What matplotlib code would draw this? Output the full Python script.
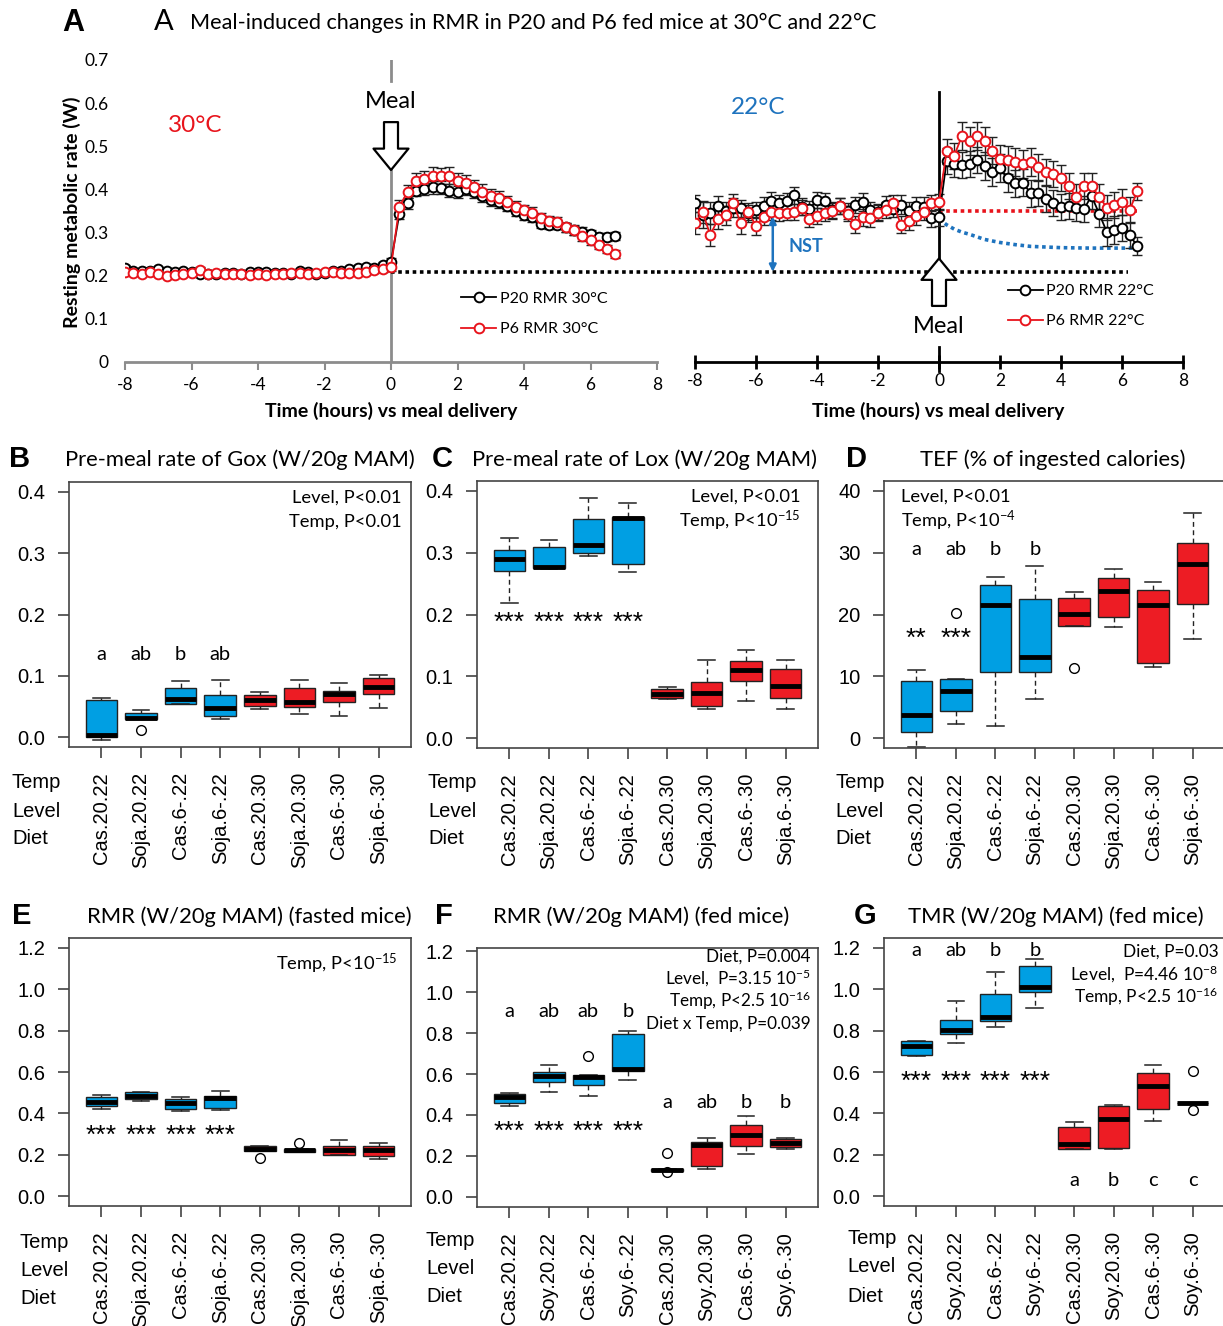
import matplotlib
matplotlib.use('Agg')
import matplotlib.pyplot as plt
import numpy as np

plt.rcParams['axes.unicode_minus'] = False
plt.rcParams['mathtext.fontset'] = 'custom'
plt.rcParams['mathtext.rm'] = 'Lato'
plt.rcParams['mathtext.it'] = 'Lato:italic'
plt.rcParams['mathtext.bf'] = 'Lato:bold'
CAL = ['Lato', 'DejaVu Sans']
ARI = ['Liberation Sans', 'DejaVu Sans']
plt.rcParams['font.family'] = CAL

BLUE = '#009fe3'
RED = '#ed1c24'
BLUE22 = '#1e73be'
RED_A = '#e8141c'

# ---------------- panel A data (15 min bins) ----------------
t30 = np.arange(-8, 7, 0.25)      # -8 .. 6.75 h
t22 = np.arange(-8, 6.75, 0.25)   # -8 .. 6.5 h

p20_30 = [0.218, 0.212, 0.210, 0.212, 0.215, 0.212, 0.208, 0.210, 0.208, 0.205,
          0.203, 0.205, 0.207, 0.206, 0.205, 0.209, 0.208, 0.209, 0.207, 0.206,
          0.205, 0.210, 0.208, 0.203, 0.207, 0.211, 0.210, 0.215, 0.218, 0.220,
          0.218, 0.225, 0.232,
          0.343, 0.368, 0.397, 0.402, 0.405, 0.404, 0.397, 0.395, 0.400, 0.395,
          0.385, 0.375, 0.370, 0.362, 0.350, 0.340, 0.335, 0.320, 0.318, 0.318,
          0.312, 0.305, 0.302, 0.296, 0.290, 0.290, 0.292]
p6_30 = [0.208, 0.207, 0.205, 0.208, 0.205, 0.200, 0.202, 0.205, 0.207, 0.213,
         0.205, 0.207, 0.205, 0.205, 0.203, 0.202, 0.203, 0.202, 0.203, 0.205,
         0.207, 0.207, 0.205, 0.206, 0.208, 0.208, 0.207, 0.206, 0.207, 0.208,
         0.213, 0.215, 0.220,
         0.360, 0.395, 0.420, 0.425, 0.432, 0.430, 0.432, 0.420, 0.415, 0.405,
         0.395, 0.385, 0.380, 0.370, 0.360, 0.352, 0.346, 0.334, 0.326, 0.324,
         0.312, 0.306, 0.292, 0.282, 0.272, 0.262, 0.250]
e20_30 = [0.006, 0.005, 0.005, 0.005, 0.006, 0.005, 0.005, 0.005, 0.005, 0.005,
          0.006, 0.005, 0.005, 0.005, 0.005, 0.005, 0.005, 0.005, 0.005, 0.005,
          0.006, 0.005, 0.005, 0.005, 0.005, 0.005, 0.005, 0.006, 0.006, 0.006,
          0.006, 0.007, 0.008,
          0.012, 0.013, 0.013, 0.014, 0.015, 0.015, 0.015, 0.014, 0.014, 0.014,
          0.013, 0.013, 0.012, 0.012, 0.012, 0.011, 0.011, 0.010, 0.010, 0.010,
          0.010, 0.010, 0.010, 0.010, 0.010, 0.010, 0.010]
e6_30 = [0.006, 0.006, 0.005, 0.005, 0.006, 0.006, 0.005, 0.005, 0.006, 0.007,
         0.006, 0.005, 0.005, 0.005, 0.005, 0.005, 0.005, 0.005, 0.005, 0.005,
         0.006, 0.005, 0.005, 0.005, 0.005, 0.005, 0.005, 0.005, 0.005, 0.005,
         0.006, 0.007, 0.008,
         0.015, 0.016, 0.017, 0.018, 0.019, 0.019, 0.020, 0.019, 0.018, 0.018,
         0.017, 0.016, 0.016, 0.015, 0.014, 0.013, 0.013, 0.012, 0.012, 0.012,
         0.011, 0.011, 0.011, 0.011, 0.010, 0.010, 0.010]

p20_22 = [0.368, 0.340, 0.345, 0.362, 0.350, 0.358, 0.356, 0.345, 0.352, 0.362,
          0.373, 0.369, 0.373, 0.386, 0.360, 0.355, 0.375, 0.373, 0.352, 0.362,
          0.350, 0.364, 0.371, 0.352, 0.348, 0.364, 0.355, 0.364, 0.350, 0.362,
          0.360, 0.333, 0.335,
          0.466, 0.459, 0.457, 0.459, 0.468, 0.454, 0.441, 0.449, 0.426, 0.414,
          0.416, 0.391, 0.391, 0.377, 0.369, 0.360, 0.361, 0.356, 0.354, 0.385,
          0.344, 0.302, 0.306, 0.311, 0.294, 0.269]
p6_22 = [0.322, 0.348, 0.294, 0.331, 0.340, 0.368, 0.322, 0.348, 0.315, 0.337,
         0.348, 0.345, 0.346, 0.348, 0.358, 0.331, 0.338, 0.345, 0.350, 0.362,
         0.344, 0.319, 0.335, 0.333, 0.345, 0.352, 0.368, 0.318, 0.327, 0.338,
         0.348, 0.369, 0.371,
         0.488, 0.478, 0.524, 0.512, 0.524, 0.512, 0.490, 0.470, 0.468, 0.463,
         0.459, 0.463, 0.451, 0.440, 0.435, 0.426, 0.408, 0.383, 0.408, 0.408,
         0.383, 0.358, 0.364, 0.370, 0.352, 0.396]
e20_22 = [0.020, 0.030, 0.025, 0.022, 0.020, 0.022, 0.020, 0.020, 0.018, 0.020,
          0.020, 0.018, 0.018, 0.020, 0.020, 0.018, 0.018, 0.018, 0.018, 0.018,
          0.018, 0.018, 0.020, 0.020, 0.018, 0.020, 0.020, 0.022, 0.020, 0.020,
          0.022, 0.020, 0.020,
          0.030, 0.030, 0.030, 0.030, 0.030, 0.032, 0.032, 0.032, 0.032, 0.032,
          0.032, 0.032, 0.030, 0.030, 0.030, 0.030, 0.030, 0.030, 0.030, 0.030,
          0.030, 0.032, 0.032, 0.030, 0.030, 0.020]
e6_22 = [0.025, 0.025, 0.025, 0.022, 0.022, 0.022, 0.025, 0.020, 0.020, 0.020,
         0.018, 0.018, 0.018, 0.018, 0.018, 0.018, 0.018, 0.018, 0.018, 0.018,
         0.018, 0.020, 0.020, 0.020, 0.018, 0.018, 0.018, 0.020, 0.020, 0.020,
         0.020, 0.018, 0.018,
         0.030, 0.030, 0.032, 0.032, 0.032, 0.032, 0.032, 0.032, 0.032, 0.032,
         0.032, 0.032, 0.032, 0.030, 0.030, 0.030, 0.030, 0.030, 0.030, 0.030,
         0.030, 0.030, 0.030, 0.030, 0.030, 0.020]

baseline = 0.209           # pre-meal RMR at 30 C
baseline_end = 6.2
nst_level = 0.350          # pre-meal RMR at 22 C
nst_x = -5.45
nst_top = 0.337
tef22_t = [0, 0.25, 0.5, 0.75, 1, 1.5, 2, 2.5, 3, 4, 5, 6.5]
tef22_v = [0.331, 0.318, 0.308, 0.301, 0.296, 0.284, 0.277, 0.272, 0.268, 0.265, 0.264, 0.264]

# ---------------- boxplot data: (whisker lo, q1, median, q3, whisker hi) ----------------
names_soja = ['Cas.20.22', 'Soja.20.22', 'Cas.6-.22', 'Soja.6-.22',
              'Cas.20.30', 'Soja.20.30', 'Cas.6-.30', 'Soja.6-.30']
names_soy = ['Cas.20.22', 'Soy.20.22', 'Cas.6-.22', 'Soy.6-.22',
             'Cas.20.30', 'Soy.20.30', 'Cas.6-.30', 'Soy.6-.30']
box_colors = [BLUE] * 4 + [RED] * 4

gox = [(-0.004, 0.0, 0.003, 0.060, 0.064), (0.029, 0.029, 0.032, 0.040, 0.045),
       (0.054, 0.054, 0.062, 0.080, 0.092), (0.029, 0.035, 0.048, 0.068, 0.094),
       (0.046, 0.051, 0.061, 0.068, 0.074), (0.037, 0.050, 0.057, 0.080, 0.094),
       (0.035, 0.058, 0.071, 0.075, 0.088), (0.048, 0.070, 0.081, 0.096, 0.102)]
gox_out = [[], [0.012], [], [], [], [], [], []]

lox = [(0.219, 0.271, 0.290, 0.304, 0.323), (0.273, 0.275, 0.277, 0.309, 0.321),
       (0.294, 0.300, 0.313, 0.354, 0.389), (0.269, 0.282, 0.356, 0.358, 0.380),
       (0.063, 0.065, 0.072, 0.080, 0.082), (0.0465, 0.052, 0.0735, 0.090, 0.127),
       (0.0605, 0.092, 0.111, 0.124, 0.142), (0.0465, 0.065, 0.084, 0.112, 0.127)]
lox_out = [[], [], [], [], [], [], [], []]

tef = [(-1.46, 1.03, 3.78, 9.24, 11.08), (2.32, 4.38, 7.57, 9.62, 9.62),
       (1.89, 10.7, 21.5, 24.76, 26.1), (6.27, 10.7, 13.1, 22.5, 27.9),
       (18.2, 18.2, 20.05, 22.7, 23.7), (17.9, 19.6, 23.8, 25.9, 27.3),
       (11.46, 12.2, 21.5, 23.9, 25.2), (16.05, 21.7, 28.2, 31.6, 36.5)]
tef_out = [[], [20.27], [], [], [11.3], [], [], []]

rmr_fast = [(0.422, 0.438, 0.457, 0.478, 0.488), (0.459, 0.470, 0.486, 0.503, 0.503),
            (0.409, 0.422, 0.448, 0.470, 0.477), (0.415, 0.426, 0.473, 0.485, 0.509),
            (0.219, 0.219, 0.229, 0.240, 0.240), (0.214, 0.214, 0.222, 0.230, 0.230),
            (0.198, 0.201, 0.221, 0.240, 0.269), (0.178, 0.196, 0.221, 0.240, 0.259)]
rmr_fast_out = [[], [], [], [], [0.183], [0.259], [], []]

rmr_fed = [(0.446, 0.457, 0.490, 0.501, 0.509), (0.514, 0.563, 0.590, 0.608, 0.644),
           (0.495, 0.545, 0.587, 0.593, 0.593), (0.571, 0.615, 0.624, 0.795, 0.812),
           (0.128, 0.128, 0.133, 0.138, 0.138), (0.135, 0.152, 0.255, 0.266, 0.289),
           (0.211, 0.251, 0.303, 0.352, 0.396), (0.234, 0.245, 0.263, 0.284, 0.289)]
rmr_fed_out = [[], [], [0.689], [], [0.214, 0.120], [], [], []]

tmr_fed = [(0.675, 0.683, 0.726, 0.748, 0.752), (0.739, 0.782, 0.803, 0.851, 0.945),
           (0.820, 0.845, 0.864, 0.978, 1.082), (0.908, 0.989, 1.010, 1.114, 1.145),
           (0.227, 0.227, 0.251, 0.334, 0.358), (0.227, 0.232, 0.373, 0.435, 0.439),
           (0.365, 0.422, 0.533, 0.593, 0.632), (0.452, 0.452, 0.452, 0.452, 0.452)]
tmr_fed_out = [[], [], [], [], [], [], [], [0.603, 0.415]]

# ---------------- figure ----------------
W, H = 1223, 1326
fig = plt.figure(figsize=(W / 100, H / 100), dpi=100)


def add_ax(l, t, r, b):
    return fig.add_axes([l / W, 1 - b / H, (r - l) / W, (b - t) / H])


def ftext(x, y, s, **kw):
    kw.setdefault('ha', 'center')
    kw.setdefault('va', 'center')
    fig.text(x / W, 1 - y / H, s, **kw)


def series(ax, t, v, e, col, lab):
    ax.errorbar(t, v, yerr=e, fmt='none', ecolor='#222222', elinewidth=1,
                capsize=3.5, capthick=1, zorder=2)
    ax.plot(t, v, '-o', color=col, lw=1.3, ms=7, mfc='white', mec=col,
            mew=1.4, label=lab, zorder=3)


hollow = 'simple,head_length=0.55,head_width=0.9,tail_width=0.36'

# ---- A left (30 C) ----
axL = add_ax(125, 60, 657, 362)
axL.set_xlim(-8, 8)
axL.set_ylim(0, 0.7)
for s in ['top', 'right', 'left']:
    axL.spines[s].set_visible(False)
axL.spines['bottom'].set_color('#8c8c8c')
axL.spines['bottom'].set_linewidth(2)
axL.set_xticks(range(-8, 9, 2))
axL.set_yticks([0, 0.1, 0.2, 0.3, 0.4, 0.5, 0.6, 0.7])
axL.set_yticklabels(['0', '0.1', '0.2', '0.3', '0.4', '0.5', '0.6', '0.7'])
axL.tick_params(axis='x', color='#8c8c8c', length=6, width=1.5, labelsize=12.5, pad=5)
axL.tick_params(axis='y', length=0, labelsize=12.5, pad=12)
axL.patch.set_alpha(0)

axL.plot([0, 0], [0, 0.445], color='#8c8c8c', lw=2, zorder=1)
axL.plot([0, 0], [0.651, 0.70], color='#8c8c8c', lw=2, zorder=1)
axL.plot([0, 8], [baseline, baseline], color='black', lw=2.6, ls=(0, (1, 1)), zorder=1)
series(axL, t30, p20_30, e20_30, 'black', 'P20 RMR 30°C')
series(axL, t30, p6_30, e6_30, RED_A, 'P6 RMR 30°C')
axL.annotate('', xy=(0, 0.445), xytext=(0, 0.556),
             arrowprops=dict(arrowstyle=hollow, fc='white', ec='black', lw=1.6,
                             shrinkA=0, shrinkB=0, mutation_scale=28))
axL.text(0, 0.603, 'Meal', ha='center', va='center', fontsize=17)
axL.text(-5.9, 0.549, '30°C', color=RED_A, ha='center', va='center', fontsize=17.5)
axL.legend(loc='center left', bbox_to_anchor=(0.62, 0.159), frameon=False,
           fontsize=11.5, handlelength=2.2, handletextpad=0.2, labelspacing=1.0,
           numpoints=1, borderaxespad=0)

# ---- A right (22 C) ----
axR = add_ax(695, 60, 1183, 362)
axR.set_xlim(-8, 8)
axR.set_ylim(0, 0.7)
for s in ['top', 'right', 'left']:
    axR.spines[s].set_visible(False)
axR.spines['bottom'].set_linewidth(2)
axR.set_xticks(range(-8, 9, 2))
axR.set_yticks([])
axR.tick_params(axis='x', direction='inout', length=10, width=2, labelsize=12.5, pad=3)
axR.patch.set_alpha(0)

axR.plot([0, 0], [0.238, 0.626], color='black', lw=2, zorder=1)
axR.plot([0, 0], [-0.02, 0.035], color='black', lw=2, zorder=1, clip_on=False)
axR.plot([-9.25, baseline_end], [baseline, baseline], color='black', lw=2.6,
         ls=(0, (1, 1)), zorder=1, clip_on=False)
axR.plot([0, 6.5], [nst_level, nst_level], color=RED_A, lw=2.6, ls=(0, (1, 1)), zorder=1)
axR.plot(tef22_t, tef22_v, color=BLUE22, lw=2.6, ls=(0, (1, 1)), zorder=1)
series(axR, t22, p20_22, e20_22, 'black', 'P20 RMR 22°C')
series(axR, t22, p6_22, e6_22, RED_A, 'P6 RMR 22°C')
axR.annotate('', xy=(nst_x, baseline), xytext=(nst_x, nst_top),
             arrowprops=dict(arrowstyle='<|-|>', color=BLUE22, lw=1.8,
                             mutation_scale=10, shrinkA=0, shrinkB=0))
axR.text(-4.95, 0.267, 'NST', color=BLUE22, fontsize=13, fontweight='bold',
         ha='left', va='center')
axR.annotate('', xy=(0, 0.240), xytext=(0, 0.130),
             arrowprops=dict(arrowstyle=hollow, fc='white', ec='black', lw=1.6,
                             shrinkA=0, shrinkB=0, mutation_scale=28))
axR.text(0, 0.083, 'Meal', ha='center', va='center', fontsize=17)
axR.text(-5.93, 0.591, '22°C', color=BLUE22, ha='center', va='center', fontsize=17.5)
axR.legend(loc='center left', bbox_to_anchor=(0.628, 0.185), frameon=False,
           fontsize=11.5, handlelength=2.2, handletextpad=0.2, labelspacing=1.0,
           numpoints=1, borderaxespad=0)

ftext(62, 23, 'A', fontsize=22, fontweight='bold', family=ARI, ha='left')
ftext(154, 22, 'A', fontsize=21, ha='left')
ftext(190, 23, 'Meal-induced changes in RMR in P20 and P6 fed mice at 30°C and 22°C',
      fontsize=15.6, ha='left')
ftext(72, 212, 'Resting metabolic rate (W)', rotation=90, fontsize=14, fontweight='bold')
ftext(391, 411, 'Time (hours) vs meal delivery', fontsize=14, fontweight='bold')
ftext(938, 411, 'Time (hours) vs meal delivery', fontsize=14, fontweight='bold')

# ---------------- boxplot panels ----------------
positions = list(range(1, 9))


def box_panel(rect, stats, outs, ylim, yticks, ylabels, names, title, title_x,
              title_y, letter, letter_x, tld_x, tld_y):
    ax = add_ax(*rect)
    bs = [dict(whislo=s[0], q1=s[1], med=s[2], q3=s[3], whishi=s[4], fliers=o)
          for s, o in zip(stats, outs)]
    art = ax.bxp(bs, positions=positions, widths=0.8, patch_artist=True,
                 manage_ticks=False, capwidths=0.42,
                 boxprops=dict(edgecolor='#222222', lw=1),
                 medianprops=dict(color='black', lw=3.5, solid_capstyle='butt'),
                 whiskerprops=dict(color='#222222', lw=1, ls=(0, (3.5, 2.5))),
                 capprops=dict(color='#222222', lw=1.1),
                 flierprops=dict(marker='o', mfc='none', mec='black', ms=7, mew=1))
    for patch, c in zip(art['boxes'], box_colors):
        patch.set_facecolor(c)
    ax.set_xlim(0.18, 8.82)
    ax.set_ylim(*ylim)
    ax.set_yticks(yticks)
    ax.set_yticklabels(ylabels)
    ax.set_xticks(positions)
    ax.set_xticklabels(names, rotation=90, va='top')
    ax.tick_params(axis='both', direction='out', length=8, width=1.1,
                   color='#333333', labelsize=14.5)
    ax.tick_params(axis='y', pad=9)
    ax.tick_params(axis='x', pad=10)
    for lab in ax.get_xticklabels() + ax.get_yticklabels():
        lab.set_family(ARI)
    for s in ax.spines.values():
        s.set_color('#444444')
        s.set_linewidth(1.2)
    ftext(title_x, title_y, title, fontsize=15.8)
    ftext(letter_x, title_y - 1, letter, fontsize=21, fontweight='bold', family=ARI,
          ha='left')
    for i, lab in enumerate(['Temp', 'Level', 'Diet']):
        ftext(tld_x, tld_y[i], lab, fontsize=14.5, family=ARI, ha='left')
    return ax


def marks(ax, xs, y, labs, size=14.5, fam=None):
    for x, s in zip(xs, labs):
        ax.text(x, y, s, ha='center', va='center', fontsize=size,
                family=fam if fam else CAL)


row1 = [783, 811, 839]
row2 = [1242, 1270, 1298]
STAR = 19

axB = box_panel((69, 482, 411, 747), gox, gox_out, (-0.016, 0.416),
                [0, 0.1, 0.2, 0.3, 0.4], ['0.0', '0.1', '0.2', '0.3', '0.4'],
                names_soja, 'Pre-meal rate of Gox (W/20g MAM)', 240, 460, 'B', 9, 12, row1)
marks(axB, [1, 2, 3, 4], 0.135, ['a', 'ab', 'b', 'ab'])
axB.text(8.58, 0.390, 'Level, P<0.01', ha='right', va='center', fontsize=13.2)
axB.text(8.58, 0.351, 'Temp, P<0.01', ha='right', va='center', fontsize=13.2)

axC = box_panel((477, 481, 818, 748), lox, lox_out, (-0.016, 0.416),
                [0, 0.1, 0.2, 0.3, 0.4], ['0.0', '0.1', '0.2', '0.3', '0.4'],
                names_soja, 'Pre-meal rate of Lox (W/20g MAM)', 645, 460, 'C', 432, 428, row1)
marks(axC, [1, 2, 3, 4], 0.186, ['***'] * 4, size=STAR, fam=ARI)
axC.text(8.38, 0.390, 'Level, P<0.01', ha='right', va='center', fontsize=13.2)
axC.text(8.38, 0.351, 'Temp, P<10$^{-15}$', ha='right', va='center', fontsize=13.2)

axD = box_panel((884, 481, 1225, 748), tef, tef_out, (-1.6, 41.6),
                [0, 10, 20, 30, 40], ['0', '10', '20', '30', '40'],
                names_soja, 'TEF (% of ingested calories)', 1053, 460, 'D', 846, 835, row1)
marks(axD, [1, 2, 3, 4], 30.5, ['a', 'ab', 'b', 'b'])
marks(axD, [1, 2], 16.1, ['**', '***'], size=STAR, fam=ARI)
axD.text(0.62, 39.0, 'Level, P<0.01', ha='left', va='center', fontsize=13.2)
axD.text(0.62, 35.1, 'Temp, P<10$^{-4}$', ha='left', va='center', fontsize=13.2)

yt12 = [0, 0.2, 0.4, 0.6, 0.8, 1.0, 1.2]
yl12 = ['0.0', '0.2', '0.4', '0.6', '0.8', '1.0', '1.2']

axE = box_panel((69, 938, 411, 1206), rmr_fast, rmr_fast_out, (-0.048, 1.248),
                yt12, yl12, names_soja, 'RMR (W/20g MAM) (fasted mice)', 249, 917,
                'E', 12, 20, row2)
marks(axE, [1, 2, 3, 4], 0.29, ['***'] * 4, size=STAR, fam=ARI)
axE.text(8.48, 1.124, 'Temp, P<10$^{-15}$', ha='right', va='center', fontsize=13.2)

axF = box_panel((477, 948, 818, 1207), rmr_fed, rmr_fed_out, (-0.049, 1.215),
                yt12, yl12, names_soy, 'RMR (W/20g MAM) (fed mice)', 641, 917,
                'F', 435, 426, [1241, 1269, 1297])
marks(axF, [1, 2, 3, 4], 0.906, ['a', 'ab', 'ab', 'b'])
marks(axF, [5, 6, 7, 8], 0.462, ['a', 'ab', 'b', 'b'])
marks(axF, [1, 2, 3, 4], 0.318, ['***'] * 4, size=STAR, fam=ARI)
for y, s in zip([1.174, 1.065, 0.955, 0.846],
                ['Diet, P=0.004', 'Level,  P=3.15 10$^{-5}$',
                 'Temp, P<2.5 10$^{-16}$', 'Diet x Temp, P=0.039']):
    axF.text(8.64, y, s, ha='right', va='center', fontsize=12.3)

axG = box_panel((884, 938, 1225, 1206), tmr_fed, tmr_fed_out, (-0.048, 1.248),
                yt12, yl12, names_soy, 'TMR (W/20g MAM) (fed mice)', 1056, 917,
                'G', 854, 847, [1239, 1267, 1296])
marks(axG, [1, 2, 3, 4], 1.189, ['a', 'ab', 'b', 'b'])
marks(axG, [5, 6, 7, 8], 0.075, ['a', 'b', 'c', 'c'])
marks(axG, [1, 2, 3, 4], 0.55, ['***'] * 4, size=STAR, fam=ARI)
for y, s in zip([1.18, 1.07, 0.962],
                ['Diet, P=0.03', 'Level,  P=4.46 10$^{-8}$', 'Temp, P<2.5 10$^{-16}$']):
    axG.text(8.65, y, s, ha='right', va='center', fontsize=12.5)

fig.savefig('out.png', dpi=100)
